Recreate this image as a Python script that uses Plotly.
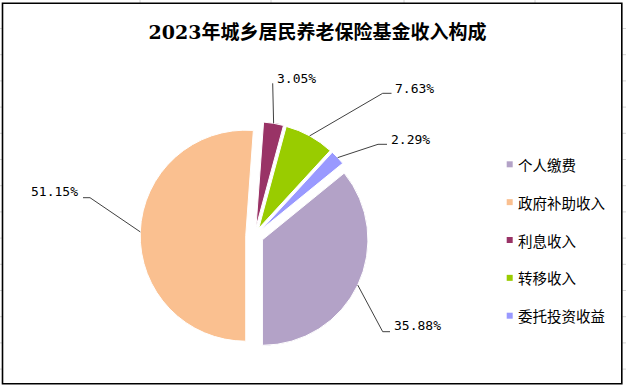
import math
import plotly.graph_objects as go

# ---------------- data ----------------
title_text = "2023年城乡居民养老保险基金收入构成"
categories = ["个人缴费", "政府补助收入", "利息收入", "转移收入", "委托投资收益"]
shares = [35.88, 51.15, 3.05, 7.63, 2.29]
pct_labels = ["35.88%", "51.15%", "3.05%", "7.63%", "2.29%"]
colors = ["#b3a2c7", "#fac090", "#993366", "#99cc00", "#9999ff"]

# ---------------- layout helpers ----------------
W, H = 626, 387


def px(x):
    return x / W


def py(y):
    return 1 - y / H


CX, CY, HALF = 254.5, 236.0, 114.3   # pie domain centre / half size in px
PULL = 0.083
START = 50.83                         # first slice start angle (deg, clockwise from 12 o'clock)

fig = go.Figure(
    go.Pie(
        labels=categories,
        values=shares,
        sort=False,
        direction="clockwise",
        rotation=START,
        pull=[PULL] * len(shares),
        marker=dict(colors=colors, line=dict(color="white", width=1)),
        textinfo="none",
        hoverinfo="label+percent",
        showlegend=False,
        domain=dict(x=[px(CX - HALF), px(CX + HALF)], y=[py(CY + HALF), py(CY - HALF)]),
    )
)

shapes = []
annotations = []

# leader lines + data labels: (elbow, tail end, text x, xanchor, text y)
label_layout = [
    ((382.7, 331.7), (390.0, 331.7), 391.5, "left", 325.0),
    ((90.0, 197.7), (83.0, 197.7), 80.0, "right", 191.7),
    ((272.7, 83.3), None, 275.0, "left", 78.0),
    ((382.7, 93.3), (391.5, 93.3), 392.5, "left", 88.0),
    ((378.0, 144.3), (387.0, 144.3), 388.5, "left", 139.7),
]

total = sum(shares)
cum = 0.0
for i, v in enumerate(shares):
    mid = math.radians(START + (cum + v / 2) / total * 360.0)
    cum += v
    ex = CX + HALF * math.sin(mid)
    ey = CY - HALF * math.cos(mid)
    elbow, tail, tx, xa, ty = label_layout[i]
    path = f"M {px(ex)} {py(ey)} L {px(elbow[0])} {py(elbow[1])}"
    if tail is not None:
        path += f" L {px(tail[0])} {py(tail[1])}"
    shapes.append(dict(type="path", xref="paper", yref="paper", path=path,
                       line=dict(color="#404040", width=1)))
    annotations.append(dict(xref="paper", yref="paper", x=px(tx), y=py(ty),
                            xanchor=xa, yanchor="middle", showarrow=False,
                            text=pct_labels[i],
                            font=dict(family="DejaVu Sans Mono", size=13, color="black")))

# custom legend
LEG_X0, LEG_Y0, LEG_DY, SQ = 506.7, 164.3, 37.85, 6.0
for i, cat in enumerate(categories):
    yc = LEG_Y0 + LEG_DY * i
    shapes.append(dict(type="rect", xref="paper", yref="paper",
                       x0=px(LEG_X0), x1=px(LEG_X0 + SQ), y0=py(yc + SQ / 2), y1=py(yc - SQ / 2),
                       fillcolor=colors[i], line=dict(width=0)))
    annotations.append(dict(xref="paper", yref="paper", x=px(516.0), y=py(yc),
                            xanchor="left", yanchor="middle", showarrow=False, text=cat,
                            font=dict(family="Noto Sans CJK SC", size=14.5, color="black")))

# spreadsheet gridlines outside the chart frame
for k in range(14):
    yy = 28.5 + 26.2 * k
    for xa0, xa1 in [(0, 2), (622.5, 626)]:
        shapes.append(dict(type="line", xref="paper", yref="paper",
                           x0=px(xa0), x1=px(xa1), y0=py(yy), y1=py(yy),
                           line=dict(color="#d4d4d4", width=1)))
for xx in [140, 271, 404, 535]:
    shapes.append(dict(type="line", xref="paper", yref="paper",
                       x0=px(xx), x1=px(xx), y0=py(0), y1=py(3),
                       line=dict(color="#d4d4d4", width=1)))

# chart frame
shapes.append(dict(type="rect", xref="paper", yref="paper",
                   x0=px(2.5), x1=px(621.8), y0=py(383.7), y1=py(3.3),
                   line=dict(color="black", width=1.6), fillcolor="rgba(0,0,0,0)"))

fig.update_layout(
    width=W, height=H, autosize=False,
    margin=dict(l=0, r=0, t=0, b=0),
    paper_bgcolor="white", plot_bgcolor="white",
    title=dict(text=title_text, x=px(317.5), y=py(32), xanchor="center", yanchor="middle",
               font=dict(family="DejaVu Serif, Noto Sans CJK SC", size=19, color="black", weight="bold")),
    shapes=shapes,
    annotations=annotations,
    showlegend=False,
)

fig.write_html("out.html", config={"displayModeBar": False})
